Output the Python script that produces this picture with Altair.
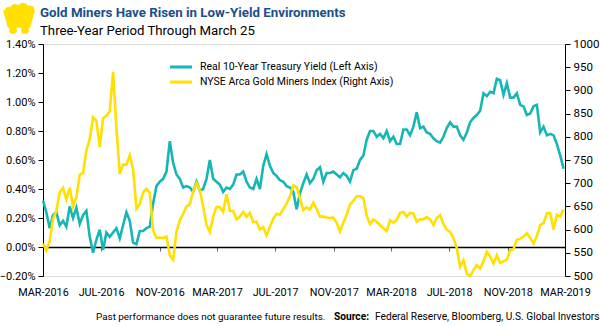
import altair as alt
import pandas as pd

# Weekly observations, 25 Mar 2016 -> 22 Mar 2019
start_date = "2016-03-25"
n_weeks = 157

# Real 10-Year Treasury Yield, % (left axis)
yield_pct = [
    0.32, 0.24, 0.13, 0.22, 0.24, 0.15, 0.18, 0.14, 0.28, 0.20,
    0.27, 0.16, 0.22, 0.25, 0.07, -0.04, 0.05, 0.12, -0.02, 0.10,
    0.07, 0.10, 0.13, 0.06, 0.15, 0.24, 0.18, 0.03, 0.02, 0.11,
    0.11, 0.13, 0.14, 0.30, 0.42, 0.45, 0.47, 0.52, 0.73, 0.58,
    0.50, 0.47, 0.41, 0.42, 0.41, 0.38, 0.45, 0.39, 0.40, 0.47,
    0.60, 0.47, 0.45, 0.43, 0.38, 0.41, 0.40, 0.43, 0.50, 0.50,
    0.52, 0.45, 0.41, 0.40, 0.47, 0.40, 0.56, 0.64, 0.56, 0.51,
    0.49, 0.46, 0.45, 0.42, 0.41, 0.38, 0.26, 0.37, 0.44, 0.50,
    0.44, 0.47, 0.53, 0.55, 0.45, 0.51, 0.51, 0.52, 0.50, 0.48,
    0.51, 0.49, 0.45, 0.53, 0.54, 0.60, 0.63, 0.74, 0.80, 0.80,
    0.76, 0.78, 0.75, 0.80, 0.73, 0.76, 0.71, 0.71, 0.81, 0.81,
    0.77, 0.83, 0.93, 0.82, 0.83, 0.79, 0.78, 0.75, 0.73, 0.72,
    0.76, 0.82, 0.86, 0.83, 0.83, 0.77, 0.74, 0.79, 0.86, 0.89,
    0.91, 0.94, 1.06, 1.04, 1.07, 1.06, 1.16, 1.15, 1.05, 1.13,
    1.03, 1.03, 1.06, 0.98, 0.97, 0.91, 0.92, 0.97, 0.98, 0.79,
    0.83, 0.77, 0.78, 0.77, 0.71, 0.63, 0.54,
]

# NYSE Arca Gold Miners Index (right axis)
gdm_index = [
    570, 555, 575, 622, 640, 680, 690, 665, 690, 650,
    670, 718, 722, 770, 795, 842, 835, 778, 840, 845,
    855, 940, 820, 720, 740, 740, 760, 730, 645, 655,
    680, 688, 680, 598, 582, 583, 582, 585, 545, 535,
    595, 620, 634, 650, 655, 682, 700, 685, 650, 610,
    595, 628, 649, 648, 638, 676, 640, 640, 622, 628,
    638, 628, 636, 616, 617, 600, 605, 588, 606, 623,
    634, 632, 644, 656, 672, 695, 692, 668, 642, 648,
    643, 658, 645, 628, 628, 626, 625, 626, 615, 596,
    615, 632, 654, 662, 672, 672, 668, 630, 612, 622,
    617, 610, 603, 597, 620, 615, 621, 636, 638, 628,
    636, 635, 617, 622, 622, 627, 622, 610, 625, 631,
    612, 600, 595, 582, 560, 520, 534, 505, 500, 513,
    523, 516, 532, 552, 542, 527, 545, 528, 532, 535,
    556, 558, 578, 580, 585, 592, 582, 570, 586, 610,
    614, 635, 636, 600, 632, 628, 644,
]

series_names = [
    "Real 10-Year Treasury Yield (Left Axis)",
    "NYSE Arca Gold Miners Index (Right Axis)",
]
series_colors = ["#17b6b6", "#ffe000"]

# x-axis tick months (day 25)
tick_months = [(2016, 3), (2016, 7), (2016, 11), (2017, 3), (2017, 7),
               (2017, 11), (2018, 3), (2018, 7), (2018, 11), (2019, 3)]
left_ticks = [-0.2, 0.0, 0.2, 0.4, 0.6, 0.8, 1.0, 1.2, 1.4]
right_ticks = [500, 550, 600, 650, 700, 750, 800, 850, 900, 950, 1000]

title_text = "Gold Miners Have Risen in Low-Yield Environments"
subtitle_text = "Three-Year Period Through March 25"
footnote_text = "Past performance does not guarantee future results."
source_label = "Source:"
source_text = "Federal Reserve, Bloomberg, U.S. Global Investors"

FONT = "Roboto, sans-serif"
GOLD = "#ffe000"

df = pd.DataFrame({
    "date": pd.date_range(start_date, periods=n_weeks, freq="7D"),
    "yld": yield_pct,
    "gdm": gdm_index,
})

x_enc = alt.X(
    "date:T",
    scale=alt.Scale(domain=[alt.DateTime(year=2016, month=3, date=25),
                            alt.DateTime(year=2019, month=3, date=25)]),
    axis=alt.Axis(
        values=[alt.DateTime(year=y, month=m, date=25) for y, m in tick_months],
        labelExpr="upper(timeFormat(datum.value, '%b-%Y'))",
        offset=-29,
        domainColor="black",
        domainWidth=1.5,
        tickColor="#666666",
        tickSize=4,
        labelPadding=35,
        labelFont=FONT,
        labelFontSize=10.8,
        labelColor="black",
        labelFlush=False,
        title=None,
        grid=False,
    ),
)

left_line = alt.Chart(df).mark_line(strokeWidth=2.6, color=series_colors[0]).encode(
    x=x_enc,
    y=alt.Y(
        "yld:Q",
        scale=alt.Scale(domain=[-0.2, 1.4], nice=False, zero=False),
        axis=alt.Axis(
            orient="left",
            values=left_ticks,
            labelExpr="format(datum.value, '.2f') + '%'",
            domainColor="black",
            tickColor="black",
            tickSize=5,
            labelFont=FONT,
            labelFontSize=11,
            labelColor="black",
            labelPadding=3,
            grid=False,
            title=None,
        ),
    ),
)

right_line = alt.Chart(df).mark_line(strokeWidth=2.6, color=series_colors[1]).encode(
    x=x_enc,
    y=alt.Y(
        "gdm:Q",
        scale=alt.Scale(domain=[500, 1000], nice=False, zero=False),
        axis=alt.Axis(
            orient="right",
            values=right_ticks,
            format="d",
            domainColor="black",
            tickColor="black",
            tickSize=5,
            labelFont=FONT,
            labelFontSize=11.5,
            labelColor="black",
            labelPadding=3,
            grid=False,
            title=None,
        ),
    ),
)


def label(text, x, y, size, weight="normal", color="black"):
    return alt.Chart(pd.DataFrame({"t": [text]})).mark_text(
        align="left", baseline="middle", font=FONT, fontSize=size,
        fontWeight=weight, color=color,
    ).encode(text="t:N", x=alt.value(x), y=alt.value(y))


title = label(title_text, -3, -31, 13.3, "bold", "#1b4f8c")
subtitle = label(subtitle_text, -3, -13, 13.2)
foot1 = label(footnote_text, 53, 273, 9.9)
foot2 = label(source_label, 291, 273, 10.2, "bold")
foot3 = label(source_text, 332, 273, 10.2)

# legend drawn by hand: swatch line + label per series
legend_layers = []
for i, (name, col) in enumerate(zip(series_names, series_colors)):
    yy = 23 + 15 * i
    legend_layers.append(
        alt.Chart(pd.DataFrame({"k": [0]})).mark_rule(strokeWidth=3, color=col)
        .encode(x=alt.value(127), x2=alt.value(149), y=alt.value(yy))
    )
    legend_layers.append(label(name, 157, yy, 10.5))

# mine-cart logo: body, gold nuggets, wheels
cart_body = alt.Chart(pd.DataFrame({"k": [0]})).mark_point(
    shape="M -1 -0.55 L 1 -0.55 L 0.7 0.55 L -0.7 0.55 Z",
    filled=True, size=1024, color=GOLD, opacity=1, strokeWidth=0,
).encode(x=alt.value(-24), y=alt.value(-25))
wheels = alt.Chart(pd.DataFrame({"k": [0]})).mark_circle(size=60, color=GOLD, opacity=1)
wheel1 = wheels.encode(x=alt.value(-30), y=alt.value(-14))
wheel2 = wheels.encode(x=alt.value(-18), y=alt.value(-14))
nug = [
    alt.Chart(pd.DataFrame({"k": [0]})).mark_circle(size=s, color=GOLD, opacity=1)
    .encode(x=alt.value(nx), y=alt.value(ny))
    for nx, ny, s in [(-34, -33, 70), (-28, -35, 100), (-20, -36, 110), (-13, -34, 80)]
]

chart = alt.layer(
    left_line, right_line, title, subtitle, foot1, foot2, foot3,
    *legend_layers, cart_body, wheel1, wheel2, *nug,
).resolve_scale(y="independent").properties(
    width=522,
    height=232,
    autosize=alt.AutoSizeParams(type="none"),
    padding={"left": 43, "top": 44, "right": 35, "bottom": 50},
).configure_view(stroke=None).configure(background="white")

chart.save("out.html", embed_options={"renderer": "svg", "actions": False})
